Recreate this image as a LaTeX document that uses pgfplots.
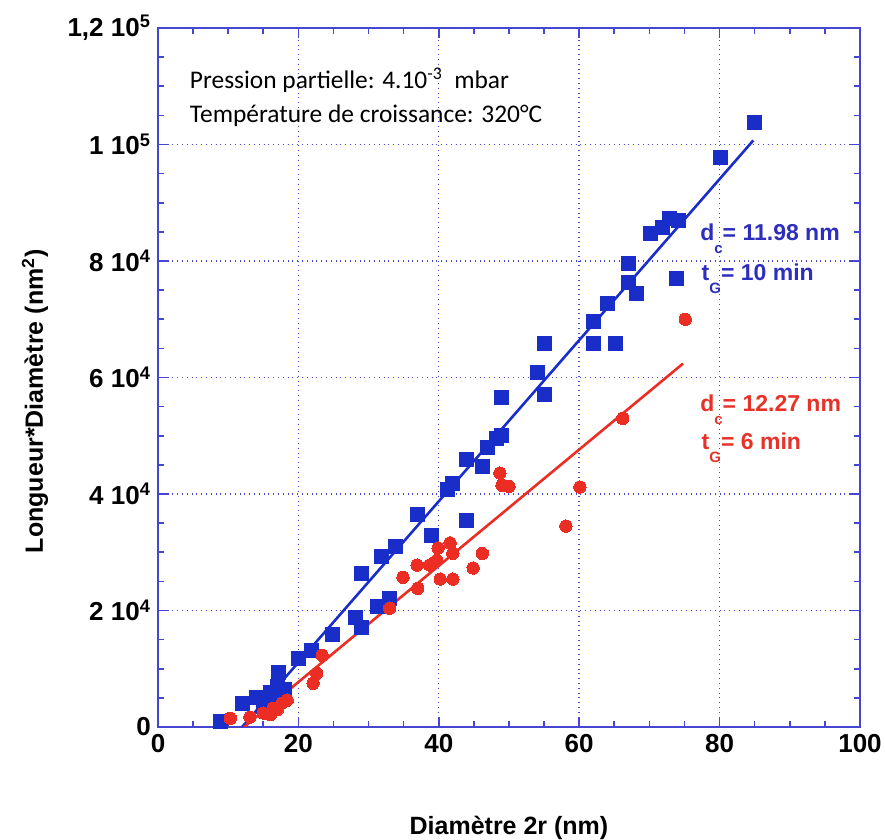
\documentclass[border=0pt]{standalone}
\usepackage{fontspec}
\setmainfont{Liberation Sans}
\newfontfamily\calib{Carlito}
\usepackage{pgfplots}
\pgfplotsset{compat=1.18}
\definecolor{axiscol}{RGB}{70,70,210}
\definecolor{bluept}{RGB}{25,45,200}
\definecolor{redpt}{RGB}{235,45,35}
\definecolor{bluetxt}{RGB}{45,45,190}
\definecolor{redtxt}{RGB}{230,50,40}
\begin{document}
\begin{tikzpicture}
\path[use as bounding box] (-79pt,-56.5pt) rectangle (363.5pt,363.5pt);
\begin{axis}[
  at={(0,0)}, anchor=south west,
  scale only axis, width=351pt, height=349.5pt,
  xmin=0, xmax=100, ymin=0, ymax=120000,
  xtick={0,20,40,60,80,100},
  xticklabels={0,20,40,60,80,100},
  ytick={0,20000,40000,60000,80000,100000,120000},
  yticklabels={0,2 10\textsuperscript{4},4 10\textsuperscript{4},6 10\textsuperscript{4},8 10\textsuperscript{4},1 10\textsuperscript{5},{1,2 10\textsuperscript{5}}},
  scaled y ticks=false,
  minor x tick num=3, minor y tick num=3,
  tick align=inside, major tick length=5pt, minor tick length=3pt,
  axis line style={axiscol, line width=1pt},
  every tick/.style={axiscol, line width=0.8pt},
  grid=major,
  major grid style={axiscol, dotted, line width=0.7pt},
  tick label style={font=\bfseries\fontsize{13}{13}\selectfont},
  xlabel={Diamètre 2r (nm)},
  ylabel={Longueur*Diamètre (nm\textsuperscript{2})},
  label style={font=\bfseries\fontsize{12.5}{13}\selectfont},
  xlabel style={at={(axis description cs:0.5,-0.1445)}, anchor=center},
  ylabel style={at={(axis description cs:-0.175,0.466)}, anchor=center},
]
% blue series (t_G = 10 min)
\addplot[only marks, mark=square*, mark size=3.5pt, color=bluept, mark options={fill=bluept, draw=bluept, line width=0pt}] coordinates {
(8.9,1000) (12.1,4000) (14.1,5000) (15,3500) (16,6000) (16.5,4800)
(17,7000) (17.1,9400) (18,6500) (18,5000)
(20,11800) (21.9,13200) (24.9,15800) (28.1,18800) (29,17000)
(31.2,20600) (33,22100) (29,26400) (31.9,29300) (33.9,31000)
(36.9,36400) (39,32800) (41.2,40700) (42,41800) (44,35500)
(44,46000) (46.2,44800) (46.9,48000) (48.2,49500) (49,50100)
(49,56600) (54,60900) (55.1,57100) (55.1,65900) (62,69600)
(62,65900) (65.1,65900) (64,72700) (67,76300) (67,79600)
(68.1,74400) (73.9,77000) (70.1,84700) (71.9,85800) (72.9,87300)
(74.1,87000) (80.1,97800) (85,103800)
};
% red series (t_G = 6 min)
\addplot[only marks, mark=*, mark size=3.1pt, color=redpt, mark options={fill=redpt, draw=redpt, line width=0pt}] coordinates {
(10.3,1500) (13.1,1700) (15,2400) (16,2100) (16.4,3200) (17,3000)
(17.7,4100) (18.4,4600) (22.1,7500) (22.6,9200) (23.4,12300)
(33,20400) (34.9,25700) (36.9,27800) (37,23800) (38.7,27800)
(39.7,28600) (39.9,30700) (40.2,25400) (41.6,31600) (42,29800)
(42,25400) (44.9,27300) (46.2,29800) (48.7,43600) (49,41500)
(50,41300) (58.1,34500) (60.1,41200) (66.2,53000) (75.1,70000)
};
% fit lines
\addplot[bluept, line width=1.3pt, no marks] coordinates {(11.98,0) (84.8,100700)};
\addplot[redpt, line width=1.3pt, no marks] coordinates {(12.27,0) (74.8,62400)};
% annotations
\node[anchor=west, font=\calib\fontsize{12.7}{13}\selectfont, inner sep=0pt] at (axis cs:4.5,111000) {Pression partielle: 4.10\textsuperscript{-3}\ \ mbar};
\node[anchor=west, font=\calib\fontsize{12.7}{13}\selectfont, inner sep=0pt] at (axis cs:4.5,105000) {Température de croissance: 320°C};
\node[anchor=base west, font=\bfseries\fontsize{11.5}{12}\selectfont, text=bluetxt, inner sep=0pt] at (axis cs:77.2,83530) {d\raisebox{-1.1ex}{\fontsize{7.5}{8}\selectfont c}= 11.98 nm};
\node[anchor=base west, font=\bfseries\fontsize{11.5}{12}\selectfont, text=bluetxt, inner sep=0pt] at (axis cs:77.4,76670) {t\raisebox{-1.1ex}{\fontsize{7.5}{8}\selectfont G}= 10 min};
\node[anchor=base west, font=\bfseries\fontsize{11.5}{12}\selectfont, text=redtxt, inner sep=0pt] at (axis cs:77.2,54200) {d\raisebox{-1.1ex}{\fontsize{7.5}{8}\selectfont c}= 12.27 nm};
\node[anchor=base west, font=\bfseries\fontsize{11.5}{12}\selectfont, text=redtxt, inner sep=0pt] at (axis cs:77.4,47680) {t\raisebox{-1.1ex}{\fontsize{7.5}{8}\selectfont G}= 6 min};
\end{axis}
\end{tikzpicture}
\end{document}
